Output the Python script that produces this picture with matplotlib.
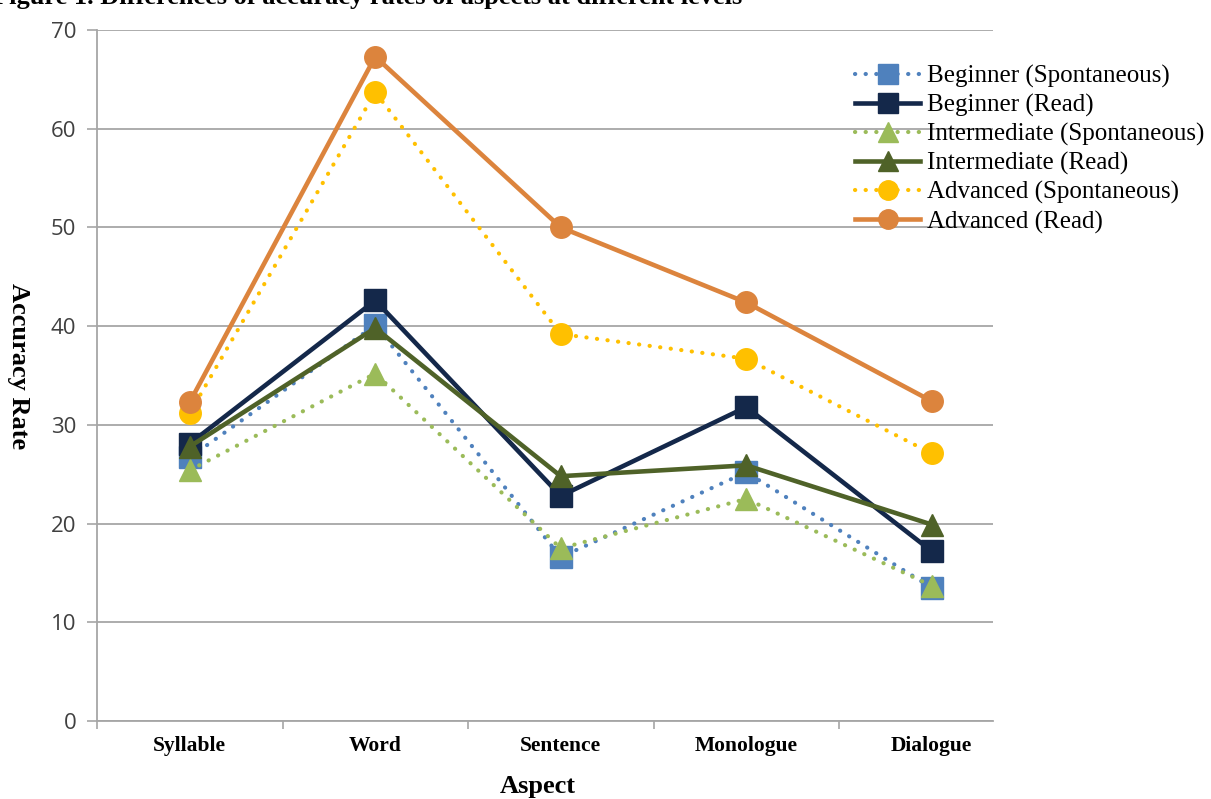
import matplotlib
matplotlib.use("Agg")
import matplotlib.pyplot as plt
from matplotlib.ticker import FixedLocator, NullFormatter

# Data
aspects = ["Syllable", "Word", "Sentence", "Monologue", "Dialogue"]
series_names = [
    "Beginner (Spontaneous)",
    "Beginner (Read)",
    "Intermediate (Spontaneous)",
    "Intermediate (Read)",
    "Advanced (Spontaneous)",
    "Advanced (Read)",
]
beginner_spont = [26.7, 40.1, 16.6, 25.2, 13.5]
beginner_read = [28.1, 42.6, 22.8, 31.8, 17.2]
intermediate_spont = [25.4, 35.2, 17.5, 22.5, 13.7]
intermediate_read = [27.8, 39.8, 24.8, 25.9, 19.9]
advanced_spont = [31.2, 63.7, 39.2, 36.7, 27.1]
advanced_read = [32.3, 67.3, 50.0, 42.4, 32.4]
y_ticks = [0, 10, 20, 30, 40, 50, 60, 70]

values = [beginner_spont, beginner_read, intermediate_spont,
          intermediate_read, advanced_spont, advanced_read]

# Styles
colors = ["#4F81BD", "#14284A", "#9BBB59", "#4F6228", "#FFC000", "#DC843D"]
markers = ["s", "s", "^", "^", "o", "o"]
dotted = [True, False, True, False, True, False]
msizes = [15.5, 15.5, 16, 16, 15.5, 15.5]

W, H = 1211, 799
fig = plt.figure(figsize=(W / 100, H / 100), dpi=100)
ax = fig.add_axes([97 / W, 1 - 721 / H, (993 - 97) / W, (721 - 30) / H])

x = list(range(len(aspects)))
for vals, name, c, m, d, ms in zip(values, series_names, colors, markers, dotted, msizes):
    if d:
        ax.plot(x, vals, color=c, lw=3.0, linestyle=(0, (0.05, 2.5)),
                dash_capstyle="round", marker=m, markersize=ms,
                markerfacecolor=c, markeredgecolor=c, label=name, zorder=3)
    else:
        ax.plot(x, vals, color=c, lw=3.3, linestyle="-",
                marker=m, markersize=ms, markerfacecolor=c,
                markeredgecolor=c, label=name, zorder=3)

ax.set_xlim(-0.5, -0.5 + (993 - 97) / 185.5)
ax.set_ylim(0, 70)

# Axes styling
for s in ["top", "right"]:
    ax.spines[s].set_visible(False)
for s in ["left", "bottom"]:
    ax.spines[s].set_color("#A6A6A6")
    ax.spines[s].set_linewidth(1.3)

ax.set_yticks(y_ticks)
ax.yaxis.grid(True, color="#A6A6A6", linewidth=1.3)
ax.set_axisbelow(True)
ax.tick_params(axis="y", direction="out", length=7, width=1.2, color="#A6A6A6",
               labelsize=16, labelcolor="#404040", pad=8)
for lbl in ax.get_yticklabels():
    lbl.set_family(["Open Sans", "DejaVu Sans"])

ax.set_xticks(x)
ax.set_xticklabels(aspects, family="Liberation Serif", fontweight="bold", fontsize=15.5)
ax.tick_params(axis="x", which="major", length=0, pad=11)
ax.xaxis.set_minor_locator(FixedLocator([-0.5, 0.5, 1.5, 2.5, 3.5]))
ax.xaxis.set_minor_formatter(NullFormatter())
ax.tick_params(axis="x", which="minor", direction="out", length=6, width=1.2,
               color="#A6A6A6")

# Axis titles
fig.text(538 / W, 1 - 787 / H, "Aspect", family="Liberation Serif",
         fontweight="bold", fontsize=19, ha="center", va="center")
fig.text(18 / W, 1 - 366 / H, "Accuracy Rate", family="Liberation Serif",
         fontweight="bold", fontsize=19, ha="center", va="center", rotation=-90)

# Figure caption (runs off the top edge)
fig.text(-7 / W, 1 - 4 / H,
         "Figure 1. Differences of accuracy rates of aspects at different levels",
         family="Liberation Serif", fontweight="bold", fontsize=19,
         ha="left", va="baseline")

leg = fig.legend(loc="upper left", bbox_to_anchor=(855 / W, 1 - 65 / H),
                 frameon=False, prop={"family": "Liberation Serif", "size": 18},
                 handlelength=2.6, handletextpad=0.28, labelspacing=0.24,
                 numpoints=1, borderaxespad=0, borderpad=0)
for h in leg.legend_handles:
    h.set_markersize(14)

fig.savefig("out.png", dpi=100)
